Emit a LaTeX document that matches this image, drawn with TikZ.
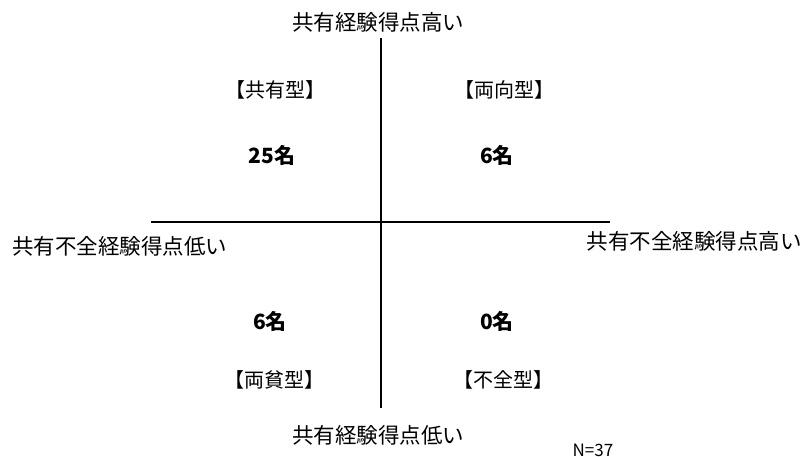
\documentclass[tikz,border=0pt]{standalone}
\usepackage{fontspec}
\setmainfont{Noto Sans CJK JP}
\begin{document}
\begin{tikzpicture}[x=1pt,y=-1pt,
  lbl/.style={font=\fontsize{21.5}{24}\selectfont, inner sep=0pt},
  quad/.style={font=\fontsize{20}{24}\selectfont, inner sep=0pt},
  num/.style={font=\fontsize{21}{24}\selectfont\bfseries, inner sep=0pt},
  axis/.style={line width=1.6pt, black}]
\useasboundingbox (0,0) rectangle (806,457);
\coordinate (vt) at (381,38);
\coordinate (vb) at (381,408);
\coordinate (hl) at (151,222);
\coordinate (hr) at (610,222);
\draw[axis] (vt) -- (vb);
\draw[axis] (hl) -- (hr);
\node[lbl] (top) at (378,22) {共有経験得点高い};
\node[lbl] (bot) at (378,435) {共有経験得点低い};
\node[lbl, anchor=west] (left) at (12,246) {共有不全経験得点低い};
\node[lbl, anchor=east] (right) at (802,241) {共有不全経験得点高い};
\node[quad] (q1) at (275,90) {【共有型】};
\node[quad] (q2) at (504,90) {【両向型】};
\node[quad] (q3) at (274,380) {【両貧型】};
\node[quad] (q4) at (503,380) {【不全型】};
\node[num] (n1) at (272,155) {25名};
\node[num] (n2) at (497,155) {6名};
\node[num] (n3) at (270,321) {6名};
\node[num] (n4) at (497,321) {0名};
\node[font=\fontsize{17}{20}\selectfont, inner sep=0pt] (n) at (593,450) {N=37};
\end{tikzpicture}
\end{document}
